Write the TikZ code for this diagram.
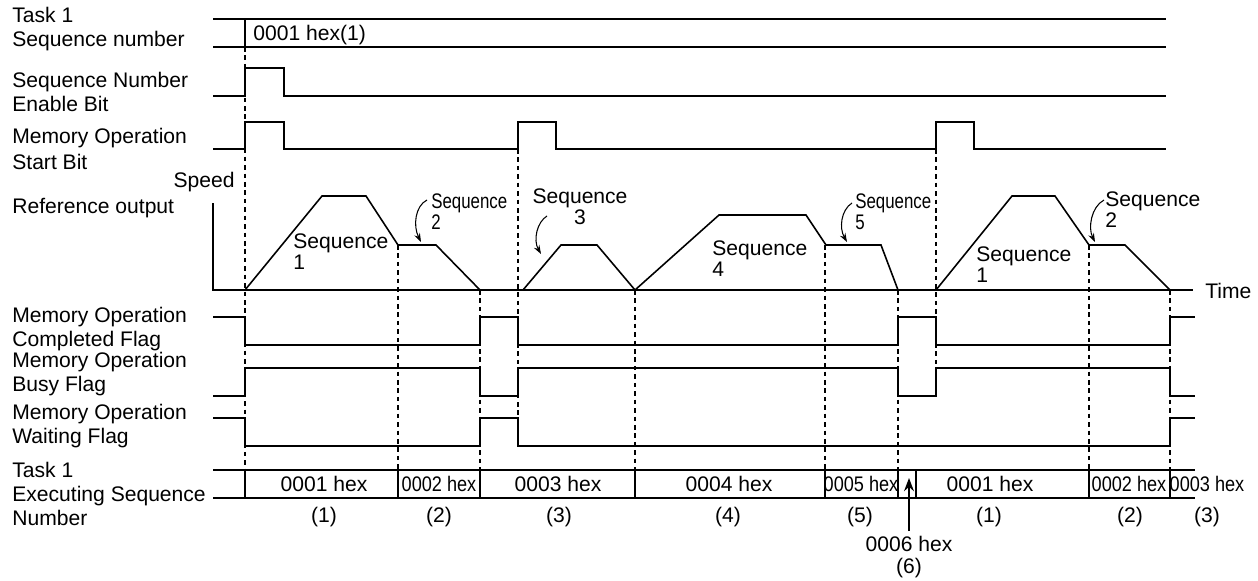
\documentclass[tikz,border=0pt]{standalone}
\usepackage{fontspec}
\setmainfont{Liberation Sans}
\usepackage{graphicx}
\usetikzlibrary{arrows.meta}

\newcommand{\narrowtext}[1]{\scalebox{0.8}[1]{#1}}
\newcommand{\narrowhex}[1]{\scalebox{0.86}[1]{#1}}

\begin{document}
\begin{tikzpicture}[x=0.02cm,y=-0.02cm,>=Stealth,
  font=\fontsize{12}{13.5}\selectfont,
  sig/.style={line width=0.9pt},
  guide/.style={line width=0.6pt,dash pattern=on 2.6pt off 2.2pt},
  lbl/.style={anchor=west,align=left,inner sep=0pt},
  seqlbl/.style={anchor=west,align=left,inner sep=0pt,
    font=\fontsize{12}{12}\selectfont},
  val/.style={inner sep=0pt},
  seqarrow/.style={->,line width=0.6pt,>={Stealth[length=5pt,width=3.5pt]}}]

  \useasboundingbox (0,0) rectangle (1258,581);

  % signal names
  \node[lbl] (nameSeqNo)  at (12,29)  {Task 1\\Sequence number};
  \node[lbl] (nameEnable) at (12,92)  {Sequence Number\\Enable Bit};
  \node[lbl] (nameStart)  at (12,149) {Memory Operation\\[1pt]Start Bit};
  \node[lbl] (nameRef)    at (12,208) {Reference output};
  \node[lbl] (nameDone)   at (12,329) {Memory Operation\\Completed Flag};
  \node[lbl] (nameBusy)   at (12,374) {Memory Operation\\Busy Flag};
  \node[lbl] (nameWait)   at (12,426) {Memory Operation\\Waiting Flag};
  \node[lbl] (nameExec)   at (12,494) {Task 1\\Executing Sequence\\Number};

  % guides
  \foreach \x/\ya/\yb in {245/47/470, 398/245/470, 480/290/470,
      518/149/418, 635/290/470, 825/245/470, 898/290/470,
      936/149/396, 1089/245/470, 1170/290/470}
    \draw[guide] (\x,\ya) -- (\x,\yb);

  % Task 1 sequence number
  \draw[sig] (213,19) -- (1166,19);
  \draw[sig] (213,47) -- (1166,47);
  \draw[sig] (245,19) -- (245,47);
  \node[val,anchor=west] (seqNoVal) at (253,35) {0001 hex(1)};

  % enable bit / start bit
  \draw[sig] (213,96) -- (245,96) -- (245,68) -- (284,68) -- (284,96)
    -- (1166,96);
  \draw[sig] (213,149) -- (245,149) -- (245,122) -- (284,122)
    -- (284,149) -- (518,149) -- (518,122) -- (556,122) -- (556,149)
    -- (936,149) -- (936,122) -- (974,122) -- (974,149) -- (1166,149);

  % speed axes
  \draw[sig] (213,203) -- (213,290) -- (1193,290);
  \node[val,anchor=east] (speedLbl) at (235,182) {Speed};
  \node[val,anchor=west] (timeLbl) at (1205,291) {Time};

  % speed profile
  \draw[sig] (245,290) -- (322,196) -- (366,196) -- (398,245)
    -- (436,245) -- (480,290);
  \draw[sig] (523,290) -- (561,245) -- (597,245) -- (635,290)
    -- (719,215) -- (806,215) -- (826,245) -- (881,245) -- (898,290);
  \draw[sig] (936,290) -- (1012,196) -- (1055,196) -- (1089,245)
    -- (1125,245) -- (1170,290);

  % sequence names
  \node[seqlbl] (seqOne)    at (293,252) {Sequence\\1};
  \node[seqlbl] (seqTwo)    at (431,212) {\narrowtext{Sequence}\\\narrowtext{2}};
  \node[seqlbl,anchor=center,align=center] (seqThree) at (580,207) {Sequence\\3};
  \node[seqlbl] (seqFour)   at (712,259) {Sequence\\4};
  \node[seqlbl] (seqFive)   at (855,212) {\narrowtext{Sequence}\\\narrowtext{5}};
  \node[seqlbl] (seqOneB)   at (976,265) {Sequence\\1};
  \node[seqlbl] (seqTwoB)   at (1105,210) {Sequence\\2};

  \coordinate (tipTwo)   at (421,242);
  \coordinate (tipThree) at (541,254);
  \coordinate (tipFive)  at (847,242);
  \coordinate (tipTwoB)  at (1095,242);

  \draw[seqarrow] (427,200) .. controls (415,206) and (413,226) .. (tipTwo);
  \draw[seqarrow] (547,216) .. controls (537,222) and (533,240) .. (tipThree);
  \draw[seqarrow] (852,203) .. controls (841,210) and (839,228) .. (tipFive);
  \draw[seqarrow] (1104,200) .. controls (1091,207) and (1088,228) .. (tipTwoB);

  % flags
  \draw[sig] (213,317) -- (245,317) -- (245,345) -- (480,345)
    -- (480,317) -- (518,317) -- (518,345) -- (898,345) -- (898,317)
    -- (936,317) -- (936,345) -- (1170,345) -- (1170,317) -- (1195,317);
  \draw[sig] (213,396) -- (245,396) -- (245,368) -- (480,368)
    -- (480,396) -- (518,396) -- (518,368) -- (898,368) -- (898,396)
    -- (936,396) -- (936,368) -- (1170,368) -- (1170,396) -- (1195,396);
  \draw[sig] (213,418) -- (245,418) -- (245,446) -- (480,446)
    -- (480,418) -- (518,418) -- (518,446) -- (1170,446) -- (1170,418)
    -- (1195,418);

  % executing sequence number
  \draw[sig] (213,470) -- (1195,470);
  \draw[sig] (213,498) -- (1195,498);
  \foreach \x in {245,398,480,635,825,898,916,1089,1170}
    \draw[sig] (\x,470) -- (\x,498);

  \node[val] (execA) at (324,484)  {0001 hex};
  \node[val] (execB) at (439,484)  {\narrowhex{0002 hex}};
  \node[val] (execC) at (558,484)  {0003 hex};
  \node[val] (execD) at (729,484)  {0004 hex};
  \node[val] (execE) at (861,484)  {\narrowhex{0005 hex}};
  \node[val] (execF) at (990,484)  {0001 hex};
  \node[val] (execG) at (1129,484) {\narrowhex{0002 hex}};
  \node[val] (execH) at (1207,484) {\narrowhex{0003 hex}};

  \node[val] (numA) at (324,517)  {(1)};
  \node[val] (numB) at (439,517)  {(2)};
  \node[val] (numC) at (559,517)  {(3)};
  \node[val] (numD) at (728,517)  {(4)};
  \node[val] (numE) at (860,517)  {(5)};
  \node[val] (numF) at (989,517)  {(1)};
  \node[val] (numG) at (1130,517) {(2)};
  \node[val] (numH) at (1207,517) {(3)};

  % 0006 hex
  \coordinate (slotSix) at (908,478);
  \node[align=center,font=\fontsize{12}{12.5}\selectfont] (hexSix) at (909,557) {0006 hex\\(6)};
  \draw[->,line width=1pt] (hexSix.north |- 0,531) -- (hexSix.north |- slotSix);

\end{tikzpicture}
\end{document}
